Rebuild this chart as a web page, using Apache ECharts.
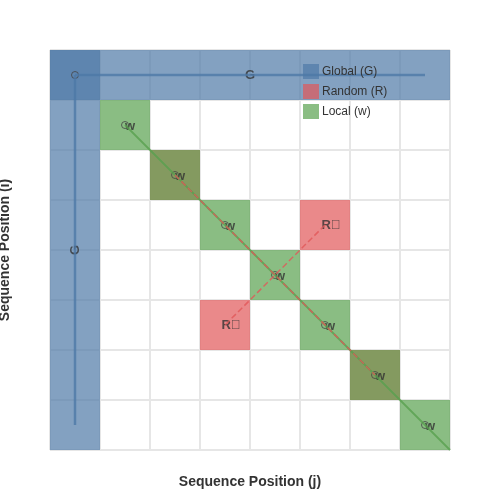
<!DOCTYPE html>
<html><head><meta charset="utf-8">
<script src="https://cdn.jsdelivr.net/npm/echarts@6/dist/echarts.min.js"></script>
<style>html,body{margin:0;padding:0;background:#fff}#c{width:500px;height:500px}</style>
</head><body><div id="c"></div>
<script>
const N = 8;
const globalCells = [[0,0,8,1],[0,0,1,8]]; // [col,row,width,height]
const randomCells = [[2,2],[6,6],[5,3],[3,5]]; // [col,row]
const localCells = [[1,1],[2,2],[3,3],[4,4],[5,5],[6,6],[7,7]];
const localPoints = [[0.5,0.5],[1.5,1.5],[2.5,2.5],[3.5,3.5],[4.5,4.5],[5.5,5.5],[6.5,6.5],[7.5,7.5]];
const localLine = [[1.5,1.5],[8,8]];
const globalLineH = [[0.5,0.5],[7.5,0.5]];
const globalLineV = [[0.5,0.5],[0.5,7.5]];
const randomLine1 = [[2.5,2.5],[6.5,6.5]];
const randomLine2 = [[5.5,3.5],[3.5,5.5]];
const randomLabels = [[5.5,3.5],[3.5,5.5]];
const BLUE='rgba(78,121,167,0.7)', RED='rgba(225,87,89,0.7)', GREEN='rgba(89,161,79,0.7)';

function rectSeries(name, cells, color){
  return {name, type:'custom', data:cells.map(c=>[c[0],c[1],c[2]||1,c[3]||1]),
    itemStyle:{color},
    renderItem:(p,api)=>{
      const a=api.coord([api.value(0),api.value(1)]);
      const b=api.coord([api.value(0)+api.value(2),api.value(1)+api.value(3)]);
      return {type:'rect',shape:{x:a[0],y:a[1],width:b[0]-a[0],height:b[1]-a[1]},style:{fill:color}};
    }};
}
const lbl = {fontWeight:'bold',fontSize:13,color:'#333',fontFamily:'Liberation Sans'};
const chart = echarts.init(document.getElementById('c'));
chart.setOption({
  animation:false,
  grid:{left:50,right:50,top:50,bottom:50,containLabel:false,outerBoundsMode:'none',show:true,borderColor:'#666',borderWidth:1},
  legend:{orient:'vertical',left:298,top:59,itemWidth:16,itemHeight:15,itemGap:5,icon:'rect',
    textStyle:{fontFamily:'Liberation Sans',fontSize:12,color:'#333',padding:[0,0,0,-2]},
    data:['Global (G)','Random (R)','Local (w)']},
  xAxis:{type:'value',min:0,max:N,interval:1,position:'bottom',
    name:'Sequence Position (j)',nameLocation:'middle',nameGap:25,
    nameTextStyle:{fontWeight:'bold',fontSize:14,color:'#333',fontFamily:'Liberation Sans'},
    axisLabel:{show:false},axisTick:{show:false},axisLine:{show:false},
    splitLine:{show:true,lineStyle:{color:'#e6e6e6',width:2}}},
  yAxis:{type:'value',min:0,max:N,interval:1,inverse:true,
    name:'Sequence Position (i)',nameLocation:'middle',nameGap:38,
    nameTextStyle:{fontWeight:'bold',fontSize:14,color:'#333',fontFamily:'Liberation Sans'},
    axisLabel:{show:false},axisTick:{show:false},axisLine:{show:false},
    splitLine:{show:true,lineStyle:{color:'#e6e6e6',width:2}}},
  series:[
    rectSeries('Global (G)', globalCells, BLUE),
    rectSeries('Random (R)', randomCells, RED),
    rectSeries('Local (w)', localCells, GREEN),
    {type:'line',data:globalLineH,symbol:'none',lineStyle:{color:'#4e79a7',width:2.5,opacity:0.8},silent:true},
    {type:'line',data:globalLineV,symbol:'none',lineStyle:{color:'#4e79a7',width:2.5,opacity:0.8},silent:true},
    {type:'line',data:localLine,symbol:'none',lineStyle:{color:'#59a14f',width:2,opacity:0.8},silent:true},
    {type:'line',data:randomLine1,symbol:'none',lineStyle:{color:'#e15759',width:1.5,type:'dashed',opacity:0.8},silent:true},
    {type:'line',data:randomLine2,symbol:'none',lineStyle:{color:'#e15759',width:1.5,type:'dashed',opacity:0.8},silent:true},
    {type:'scatter',data:localPoints.slice(1),symbol:'circle',symbolSize:7,
      itemStyle:{color:'transparent',borderColor:'#444',borderWidth:1,opacity:0.8},
      label:Object.assign({show:true,formatter:'w',position:'inside',offset:[5,1]},lbl)},
    {type:'scatter',data:localPoints.slice(0,1),symbol:'circle',symbolSize:7,
      itemStyle:{color:'transparent',borderColor:'#444',borderWidth:1,opacity:0.8}},
    {type:'scatter',data:randomLabels,symbolSize:0,
      label:Object.assign({show:true,formatter:'R\u20D7',position:'inside',offset:[6,0]},lbl)},
    {type:'scatter',data:[[4,0.5]],symbolSize:0,
      label:Object.assign({show:true,formatter:'G',position:'inside'},lbl)},
    {type:'scatter',data:[[0.5,4]],symbolSize:0,
      label:Object.assign({show:true,formatter:'G',position:'inside',rotate:90},lbl)}
  ]
});
</script></body></html>
